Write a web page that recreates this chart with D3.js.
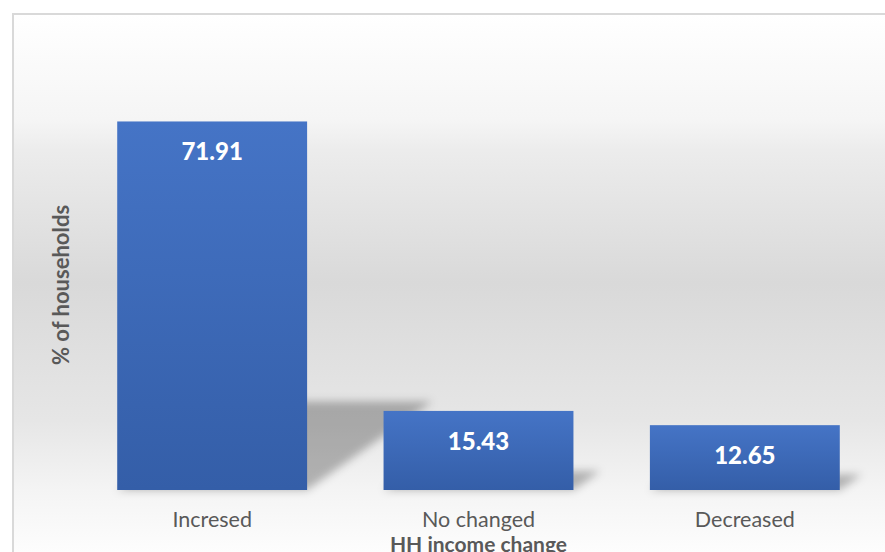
<!DOCTYPE html>
<html>
<head>
<meta charset="utf-8">
<script src="https://cdn.jsdelivr.net/npm/d3@7"></script>
<style>
  html, body { margin: 0; padding: 0; background: #ffffff; }
  svg { display: block; }
  text { font-family: Lato, "Open Sans", sans-serif; }
</style>
</head>
<body>
<svg id="chart" width="885" height="552"></svg>
<script>
const categories = ["Incresed", "No changed", "Decreased"];
const values = [71.91, 15.43, 12.65];
const valueLabels = ["71.91", "15.43", "12.65"];
const yDomain = [0, 80];
const xTitle = "HH income change";
const yTitle = "% of households";

const W = 885, H = 552;
const svg = d3.select("#chart");
const defs = svg.append("defs");

const bg = defs.append("linearGradient").attr("id", "bg")
  .attr("gradientUnits", "userSpaceOnUse")
  .attr("x1", 0).attr("y1", 14).attr("x2", 0).attr("y2", 552);
[[14, "#ffffff"], [120, "#f5f5f5"], [150, "#ececec"], [283, "#d9d9d9"],
 [420, "#e6e6e6"], [490, "#f4f4f4"], [552, "#fdfdfd"]].forEach(([y, c]) => {
  bg.append("stop").attr("offset", (y - 14) / (552 - 14)).attr("stop-color", c);
});

const barGrad = defs.append("linearGradient").attr("id", "barGrad")
  .attr("x1", 0).attr("y1", 0).attr("x2", 0).attr("y2", 1);
barGrad.append("stop").attr("offset", 0).attr("stop-color", "#4574c6");
barGrad.append("stop").attr("offset", 1).attr("stop-color", "#345ea8");

const blur = defs.append("filter").attr("id", "blur")
  .attr("x", "-30%").attr("y", "-30%").attr("width", "160%").attr("height", "160%");
blur.append("feGaussianBlur").attr("stdDeviation", 4);

svg.append("rect").attr("x", 13).attr("y", 14).attr("width", W + 10).attr("height", H + 10)
  .attr("fill", "url(#bg)").attr("stroke", "#d9d9d9").attr("stroke-width", 2);

const plot = { left: 79, right: 878, top: 80, bottom: 490 };

const x = d3.scaleBand().domain(categories).range([plot.left, plot.right]).paddingInner(0.287).paddingOuter(0.1435);
const y = d3.scaleLinear().domain(yDomain).range([plot.bottom, plot.top]);

const data = categories.map((c, i) => ({ c, v: values[i], label: valueLabels[i] }));

svg.append("g").attr("filter", "url(#blur)").selectAll("path").data(data).join("path")
  .attr("fill", "#000").attr("fill-opacity", 0.27)
  .attr("d", d => {
    const x0 = x(d.c), x1 = x0 + x.bandwidth();
    const h = y(0) - y(d.v);
    const sh = h * 0.24, sk = h * 0.34;
    const b = y(0);
    return `M${x0},${b}L${x1},${b}L${x1 + sk},${b - sh}L${x0 + sk},${b - sh}Z`;
  });

svg.append("g").selectAll("rect").data(data).join("rect")
  .attr("x", d => x(d.c)).attr("width", x.bandwidth())
  .attr("y", d => y(d.v)).attr("height", d => y(0) - y(d.v))
  .attr("fill", "url(#barGrad)");

svg.append("g").selectAll("text").data(data).join("text")
  .attr("x", d => x(d.c) + x.bandwidth() / 2)
  .attr("y", d => y(d.v) + 39)
  .attr("text-anchor", "middle")
  .attr("fill", "#ffffff").attr("font-weight", "900").attr("font-size", "24px")
  .text(d => d.label);

const xAxis = svg.append("g").attr("transform", `translate(0,${plot.bottom})`)
  .call(d3.axisBottom(x).tickSize(0).tickPadding(0));
xAxis.select(".domain").remove();
xAxis.selectAll("text")
  .attr("dy", null).attr("y", 37)
  .attr("fill", "#595959").attr("font-size", "21.5px")
  .style("font-family", "Lato, 'Open Sans', sans-serif");

svg.append("text").attr("x", x("No changed") + x.bandwidth() / 2).attr("y", 552)
  .attr("text-anchor", "middle").attr("fill", "#595959")
  .attr("font-weight", "bold").attr("font-size", "21px").text(xTitle);

svg.append("text").attr("transform", `translate(69,${(plot.top + plot.bottom) / 2}) rotate(-90)`)
  .attr("text-anchor", "middle").attr("fill", "#595959")
  .attr("font-weight", "bold").attr("font-size", "22px").text(yTitle);
</script>
</body>
</html>
